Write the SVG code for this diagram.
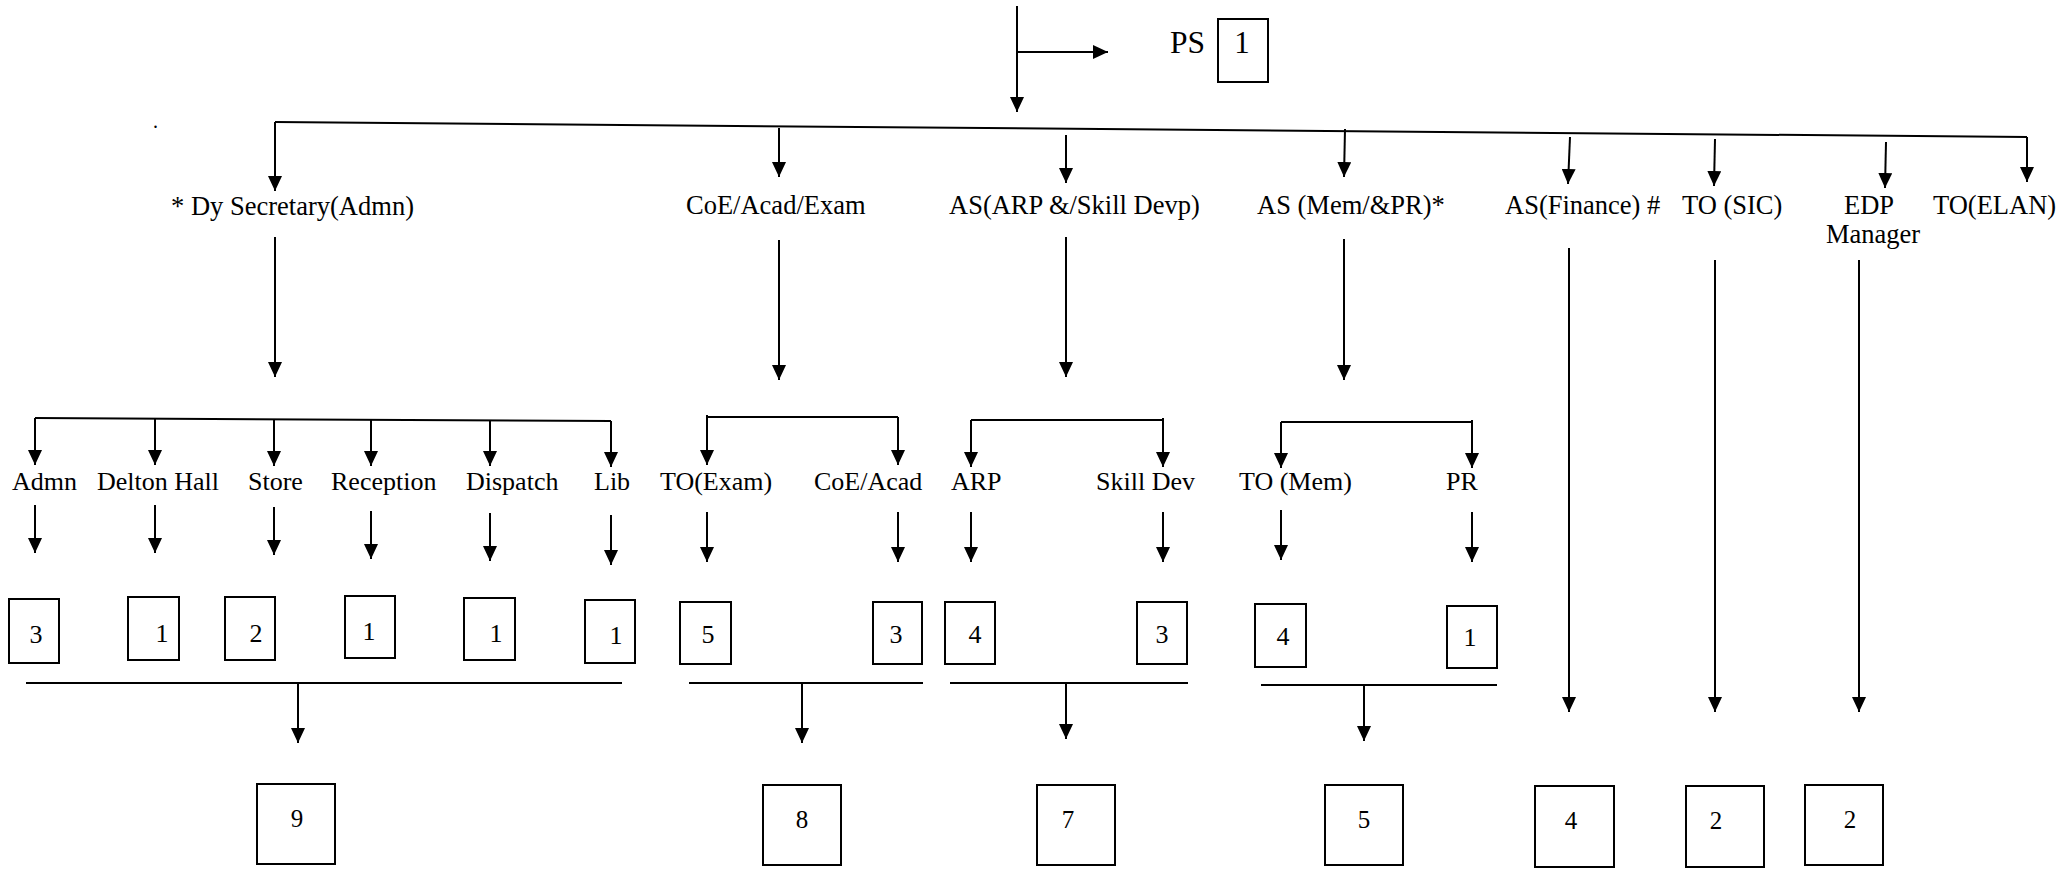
<svg xmlns="http://www.w3.org/2000/svg" width="2062" height="870" viewBox="0 0 2062 870">
<style>
text{font-family:"Liberation Serif","Times New Roman",serif;fill:#000}
.l1{font-size:26.5px}
.l2{font-size:26px}
.n{font-size:26px;text-anchor:middle}
.nb{font-size:25px;text-anchor:middle}
.box{fill:#fff;stroke:#000;stroke-width:2}
.c{fill:none;stroke:#000;stroke-width:2}
.a{fill:none;stroke:#000;stroke-width:2;marker-end:url(#ah)}
</style>
<defs>
<marker id="ah" markerUnits="userSpaceOnUse" markerWidth="16" markerHeight="14" refX="15" refY="7" orient="auto">
<path d="M0,0 L15,7 L0,14 z" fill="#000"/>
</marker>
</defs>
<rect width="2062" height="870" fill="#fff"/>

<g id="connectors">
<line class="c" x1="1017" y1="6" x2="1017" y2="52"/>
<line class="a" x1="1017" y1="52" x2="1017" y2="112"/>
<line class="a" x1="1017" y1="52" x2="1108" y2="52"/>
<path class="a" d="M275,122 L275,191"/>
<path class="c" d="M275,122 L2027,137"/>
<line class="a" x1="2027" y1="137" x2="2027" y2="182"/>
<line class="a" x1="779" y1="128" x2="779" y2="177"/>
<line class="a" x1="1066" y1="135" x2="1066" y2="183"/>
<line class="a" x1="1345" y1="129" x2="1344" y2="177"/>
<line class="a" x1="1570" y1="137" x2="1568" y2="184"/>
<line class="a" x1="1715" y1="139" x2="1714" y2="186"/>
<line class="a" x1="1886" y1="142" x2="1885" y2="188"/>

<line class="a" x1="275" y1="237" x2="275" y2="377"/>
<line class="a" x1="779" y1="240" x2="779" y2="380"/>
<line class="a" x1="1066" y1="237" x2="1066" y2="377"/>
<line class="a" x1="1344" y1="239" x2="1344" y2="380"/>
<line class="a" x1="1569" y1="248" x2="1569" y2="712"/>
<line class="a" x1="1715" y1="260" x2="1715" y2="712"/>
<line class="a" x1="1859" y1="260" x2="1859" y2="712"/>

<path class="c" d="M35,418 L611,421"/>
<line class="a" x1="35" y1="418" x2="35" y2="465"/>
<line class="a" x1="155" y1="419" x2="155" y2="465"/>
<line class="a" x1="274" y1="419" x2="274" y2="466"/>
<line class="a" x1="371" y1="420" x2="371" y2="466"/>
<line class="a" x1="490" y1="420" x2="490" y2="466"/>
<line class="a" x1="611" y1="421" x2="611" y2="467"/>

<path class="c" d="M707,417 L898,417"/>
<line class="a" x1="707" y1="415" x2="707" y2="465"/>
<line class="a" x1="898" y1="417" x2="898" y2="465"/>
<path class="c" d="M971,420 L1163,420"/>
<line class="a" x1="971" y1="420" x2="971" y2="467"/>
<line class="a" x1="1163" y1="418" x2="1163" y2="467"/>
<path class="c" d="M1281,422 L1472,422"/>
<line class="a" x1="1281" y1="422" x2="1281" y2="468"/>
<line class="a" x1="1472" y1="420" x2="1472" y2="468"/>

<line class="a" x1="35" y1="505" x2="35" y2="553"/>
<line class="a" x1="155" y1="505" x2="155" y2="553"/>
<line class="a" x1="274" y1="507" x2="274" y2="555"/>
<line class="a" x1="371" y1="511" x2="371" y2="559"/>
<line class="a" x1="490" y1="513" x2="490" y2="561"/>
<line class="a" x1="611" y1="515" x2="611" y2="565"/>
<line class="a" x1="707" y1="512" x2="707" y2="562"/>
<line class="a" x1="898" y1="512" x2="898" y2="562"/>
<line class="a" x1="971" y1="512" x2="971" y2="562"/>
<line class="a" x1="1163" y1="512" x2="1163" y2="562"/>
<line class="a" x1="1281" y1="510" x2="1281" y2="560"/>
<line class="a" x1="1472" y1="512" x2="1472" y2="562"/>

<line class="c" x1="26" y1="683" x2="622" y2="683"/>
<line class="a" x1="298" y1="683" x2="298" y2="743"/>
<line class="c" x1="689" y1="683" x2="923" y2="683"/>
<line class="a" x1="802" y1="683" x2="802" y2="743"/>
<line class="c" x1="950" y1="683" x2="1188" y2="683"/>
<line class="a" x1="1066" y1="683" x2="1066" y2="739"/>
<line class="c" x1="1261" y1="685" x2="1497" y2="685"/>
<line class="a" x1="1364" y1="685" x2="1364" y2="741"/>
</g>

<text x="153" y="128" style="font-size:20px">.</text>

<g id="ps"><text x="1170" y="53" style="font-size:31.5px">PS</text><rect class="box" x="1218" y="19" width="50" height="63"/><text x="1242" y="53" style="font-size:31px;text-anchor:middle">1</text></g>

<g id="dysec"><text class="l1" x="171" y="215" style="font-size:27.5px" textLength="243" lengthAdjust="spacingAndGlyphs">* Dy Secretary(Admn)</text></g>
<g id="coe"><text class="l1" x="686" y="214">CoE/Acad/Exam</text></g>
<g id="asarp"><text class="l1" x="949" y="214">AS(ARP &amp;/Skill Devp)</text></g>
<g id="asmem"><text class="l1" x="1257" y="214">AS (Mem/&amp;PR)*</text></g>
<g id="asfin"><text class="l1" x="1505" y="214">AS(Finance) #</text></g>
<g id="tosic"><text class="l1" x="1682" y="214">TO (SIC)</text></g>
<g id="edp"><text class="l1" x="1869" y="214" text-anchor="middle">EDP</text><text class="l1" x="1873" y="243" text-anchor="middle">Manager</text></g>
<g id="toelan"><text class="l1" x="1933" y="214">TO(ELAN)</text></g>

<g id="admn"><text class="l2" x="12" y="490">Admn</text></g>
<g id="delton"><text class="l2" x="97" y="490">Delton Hall</text></g>
<g id="store"><text class="l2" x="248" y="490">Store</text></g>
<g id="reception"><text class="l2" x="331" y="490">Reception</text></g>
<g id="dispatch"><text class="l2" x="466" y="490">Dispatch</text></g>
<g id="lib"><text class="l2" x="594" y="490">Lib</text></g>
<g id="toexam"><text class="l2" x="660" y="490">TO(Exam)</text></g>
<g id="coeacad"><text class="l2" x="814" y="490">CoE/Acad</text></g>
<g id="arp"><text class="l2" x="951" y="490">ARP</text></g>
<g id="skilldev"><text class="l2" x="1096" y="490">Skill Dev</text></g>
<g id="tomem"><text class="l2" x="1239" y="490">TO (Mem)</text></g>
<g id="pr"><text class="l2" x="1446" y="490">PR</text></g>

<g id="b-admn"><rect class="box" x="9" y="599" width="50" height="64"/><text class="n" x="36" y="643">3</text></g>
<g id="b-delton"><rect class="box" x="128" y="597" width="51" height="63"/><text class="n" x="162" y="642">1</text></g>
<g id="b-store"><rect class="box" x="225" y="597" width="50" height="63"/><text class="n" x="256" y="642">2</text></g>
<g id="b-reception"><rect class="box" x="345" y="596" width="50" height="62"/><text class="n" x="369" y="640">1</text></g>
<g id="b-dispatch"><rect class="box" x="464" y="598" width="51" height="62"/><text class="n" x="496" y="642">1</text></g>
<g id="b-lib"><rect class="box" x="585" y="600" width="50" height="63"/><text class="n" x="616" y="644">1</text></g>
<g id="b-toexam"><rect class="box" x="680" y="602" width="51" height="62"/><text class="n" x="708" y="643">5</text></g>
<g id="b-coeacad"><rect class="box" x="873" y="602" width="49" height="62"/><text class="n" x="896" y="643">3</text></g>
<g id="b-arp"><rect class="box" x="945" y="602" width="50" height="62"/><text class="n" x="975" y="643">4</text></g>
<g id="b-skilldev"><rect class="box" x="1137" y="602" width="50" height="62"/><text class="n" x="1162" y="643">3</text></g>
<g id="b-tomem"><rect class="box" x="1255" y="604" width="51" height="63"/><text class="n" x="1283" y="645">4</text></g>
<g id="b-pr"><rect class="box" x="1447" y="606" width="50" height="62"/><text class="n" x="1470" y="646">1</text></g>

<g id="t-dysec"><rect class="box" x="257" y="784" width="78" height="80"/><text class="nb" x="297" y="827">9</text></g>
<g id="t-coe"><rect class="box" x="763" y="785" width="78" height="80"/><text class="nb" x="802" y="828">8</text></g>
<g id="t-arp"><rect class="box" x="1037" y="785" width="78" height="80"/><text class="nb" x="1068" y="828">7</text></g>
<g id="t-mem"><rect class="box" x="1325" y="785" width="78" height="80"/><text class="nb" x="1364" y="828">5</text></g>
<g id="t-fin"><rect class="box" x="1535" y="786" width="79" height="81"/><text class="nb" x="1571" y="829">4</text></g>
<g id="t-sic"><rect class="box" x="1686" y="786" width="78" height="81"/><text class="nb" x="1716" y="829">2</text></g>
<g id="t-edp"><rect class="box" x="1805" y="785" width="78" height="80"/><text class="nb" x="1850" y="828">2</text></g>
</svg>
